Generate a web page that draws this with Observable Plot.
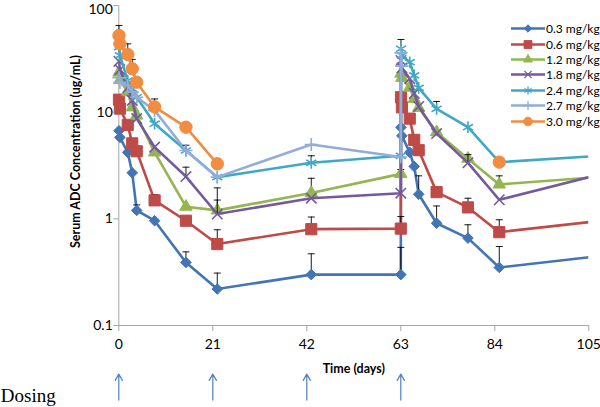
<!DOCTYPE html>
<html>
<head>
<meta charset="utf-8">
<script src="https://cdn.jsdelivr.net/npm/d3@7"></script>
<script src="https://cdn.jsdelivr.net/npm/@observablehq/plot@0.6"></script>
<style>
  body { margin: 0; background: #fff; }
  #wrap { position: relative; width: 600px; height: 407px; font-family: Lato, "Open Sans", sans-serif; }
  #legend { position: absolute; left: 511px; top: 21px; font-size: 12px; color: #000; }
  #legend .row { display: flex; align-items: center; height: 15.4px; white-space: nowrap; }
  #legend svg { display: block; margin-right: 1px; }
  [aria-label="x-axis tick"], [aria-label="y-axis tick"] { stroke: #a6a6a6; }
  .tick line { stroke: #a6a6a6; }
</style>
</head>
<body>
<div id="wrap"><div id="legend"></div></div>
<script>
// ---- data ----
const doseLabels = ["0.3 mg/kg", "0.6 mg/kg", "1.2 mg/kg", "1.8 mg/kg", "2.4 mg/kg", "2.7 mg/kg", "3.0 mg/kg"];
const colors = ["#4374b3", "#be4b48", "#93b650", "#7559a0", "#41a8c4", "#93acd8", "#f18d42"];
const times = [0.04, 0.25, 2, 3, 4, 8, 15, 22, 43, 63, 63.04, 63.25, 65, 66, 67, 71, 78, 85, 126];

const conc03 = [6.7, 5.8, 4.2, 2.7, 1.2, 0.96, 0.39, 0.22, 0.30, 0.30, 7.2, 6.0, 4.2, 3.1, 1.7, 0.91, 0.66, 0.35, 0.55];
const conc06 = [13.1, 10.8, 7.6, 5.1, 4.3, 1.49, 0.96, 0.58, 0.80, 0.81, 13.8, 11.1, 8.7, 5.5, 4.4, 1.78, 1.28, 0.75, 1.17];
const conc12 = [23.5, 20, 15.4, 11.1, 9.3, 4.2, 1.30, 1.20, 1.75, 2.64, 23, 21, 17, 13.3, 11, 6.5, 3.66, 2.10, 2.82];
const conc18 = [30, 25, 17, 12.9, 8.7, 4.7, 2.49, 1.11, 1.56, 1.74, 30.5, 26, 20.6, 15, 11.3, 6.3, 3.35, 1.51, 4.10];
const conc24 = [40.7, 34, 19.8, 16.6, 13.8, 7.8, 4.37, 2.46, 3.35, 3.9, 39.3, 34, 29.4, 22.1, 16.9, 10.75, 7.23, 3.40, 4.37];
const conc27 = [21, 19, 17.8, 15.4, 13.8, 10.4, 4.37, 2.46, 4.98, 3.8, 36, 27, null, null, null, null, null, null, null];
const conc30 = [52.3, 43.7, 34.7, 25.5, 19.1, 11.2, 7.23, 3.28, null, null, null, null, null, null, null, null, null, 3.40, null];

// upper ends of error bars (null = no bar visible)
const err03 = [null, null, null, null, 1.35, null, 0.49, 0.31, 0.47, 0.54, null, null, null, null, 2.53, 1.32, 0.88, 0.55, null];
const err06 = [null, null, null, null, null, 1.69, null, 0.79, 1.04, 1.05, null, null, null, null, null, null, 1.56, 0.98, null];
const err12 = [null, null, null, null, null, null, null, 1.5, 2.4, 2.9, null, null, null, null, null, null, null, 2.53, null];
const err18 = [null, null, null, null, null, null, 3.05, 1.95, null, null, null, null, null, null, null, null, 4.0, null, null];
const err24 = [null, null, null, null, null, null, null, null, 3.9, null, 48, null, null, null, null, 12.6, null, null, null];
const err27 = [null, null, null, null, null, null, 4.9, null, null, null, null, null, null, null, null, null, null, null, null];
const err30 = [65, null, 43.7, 31.2, null, 13.3, null, null, null, null, null, null, null, null, null, null, null, null, null];

const xTicks = [0, 21, 42, 63, 84, 105];
const yTicks = [0.1, 1, 10, 100];
const yTickLabels = ["0.1", "1", "10", "100"];
const dosingDays = [0, 21, 42, 63];
const xTitle = "Time (days)";
const yTitle = "Serum ADC Concentration (ug/mL)";
const dosingLabel = "Dosing";

// ---- build ----
const series = [conc03, conc06, conc12, conc18, conc24, conc27, conc30];
const errs = [err03, err06, err12, err18, err24, err27, err30];

const diamondSym = { draw(ctx, size) { const r = Math.sqrt(size / Math.PI); ctx.moveTo(0, -r); ctx.lineTo(r, 0); ctx.lineTo(0, r); ctx.lineTo(-r, 0); ctx.closePath(); } };
const capSym = { draw(ctx, size) { const r = Math.sqrt(size / Math.PI); ctx.moveTo(-r, 0); ctx.lineTo(r, 0); } };

const styles = [
  { symbol: diamondSym, r: 5.3, filled: true },
  { symbol: "square", r: 6.3, filled: true },
  { symbol: "triangle", r: 4.6, filled: true },
  { symbol: "times", r: 4.8, filled: false },
  { symbol: "asterisk", r: 5.5, filled: false },
  { symbol: "plus", r: 4.3, filled: false },
  { symbol: "circle", r: 6.2, filled: true }
];

const rows = series.flatMap((vals, s) => times.map((t, i) => ({
  s, dose: doseLabels[s], t, v: vals[i] == null ? NaN : vals[i], err: errs[s][i]
})));

const marks = [
  Plot.ruleX([0], { stroke: "#a6a6a6" }),
  Plot.ruleY([0.1], { stroke: "#a6a6a6" })
];

series.forEach((_, s) => {
  const sr = rows.filter(d => d.s === s);
  const er = sr.filter(d => d.err != null && isFinite(d.v));
  const st = styles[s];
  marks.push(Plot.line(sr, { x: "t", y: "v", stroke: colors[s], strokeWidth: 2.6, clip: true }));
  marks.push(Plot.ruleX(er, { x: "t", y1: "v", y2: "err", stroke: "#000", strokeWidth: 0.9 }));
  marks.push(Plot.dot(er, { x: "t", y: "err", symbol: capSym, r: 3.5, stroke: "#000", strokeWidth: 0.9 }));
  marks.push(Plot.dot(sr.filter(d => d.t <= 105 && isFinite(d.v)), {
    x: "t", y: "v", symbol: st.symbol, r: st.r,
    fill: st.filled ? colors[s] : "none", stroke: colors[s], strokeWidth: st.filled ? 1 : 1.6
  }));
});

marks.push(
  Plot.arrow(dosingDays, { x1: d => d, x2: d => d, y1: 0.02, y2: 0.035, stroke: "#4f81bd", strokeWidth: 1.2, headLength: 9 }),
  Plot.text([dosingLabel], { text: d => d, frameAnchor: "bottom-left", dx: -118, dy: 76, textAnchor: "start", fontFamily: "Liberation Serif", fontSize: 19, fill: "#000" }),
  Plot.text([xTitle], { text: d => d, frameAnchor: "bottom", dy: 47, textAnchor: "middle", fontWeight: "bold", fontSize: 12.5, fill: "#000" }),
  Plot.text([yTitle], { text: d => d, frameAnchor: "left", rotate: -90, dx: -43, dy: -14, textAnchor: "middle", fontWeight: "bold", fontSize: 12.5, fill: "#000" })
);

const plot = Plot.plot({
  width: 600,
  height: 407,
  marginLeft: 118.3,
  marginRight: 11.7,
  marginTop: 5,
  marginBottom: 82,
  style: { fontFamily: "Lato, 'Open Sans', sans-serif", fontSize: "14px", color: "#000", background: "#fff", overflow: "visible" },
  x: { domain: [0, 105], ticks: xTicks, tickSize: 6, tickPadding: 8, label: null, tickFormat: d => String(d) },
  y: { type: "log", domain: [0.1, 100], ticks: yTicks, tickSize: 5, tickPadding: 1, label: null,
       tickFormat: d => yTickLabels[yTicks.indexOf(d)] },
  marks
});
document.getElementById("wrap").prepend(plot);

// keep the top tick label ("100") inside the picture
d3.select(plot).selectAll('[aria-label="y-axis tick label"] text, [aria-label="y-axis"] .tick text')
  .filter(function () { return this.textContent === yTickLabels[yTickLabels.length - 1]; })
  .attr("y", "0.62em").attr("dy", null);

// ---- legend ----
const legend = d3.select("#legend");
doseLabels.forEach((lab, s) => {
  const row = legend.append("div").attr("class", "row");
  const svg = row.append("svg").attr("width", 34).attr("height", 15);
  svg.append("line").attr("x1", 0).attr("x2", 34).attr("y1", 7.5).attr("y2", 7.5)
    .attr("stroke", colors[s]).attr("stroke-width", 2.6);
  const st = styles[s];
  const symType = typeof st.symbol === "string"
    ? ({ square: d3.symbolSquare, triangle: d3.symbolTriangle, times: d3.symbolTimes, asterisk: d3.symbolAsterisk, plus: d3.symbolPlus, circle: d3.symbolCircle })[st.symbol]
    : st.symbol;
  const r = st.r * 0.7;
  svg.append("path").attr("transform", "translate(17,7.5)")
    .attr("d", d3.symbol(symType, Math.PI * r * r)())
    .attr("fill", st.filled ? colors[s] : "none").attr("stroke", colors[s]).attr("stroke-width", st.filled ? 1 : 1.3);
  row.append("span").text(lab);
});
</script>
</body>
</html>
